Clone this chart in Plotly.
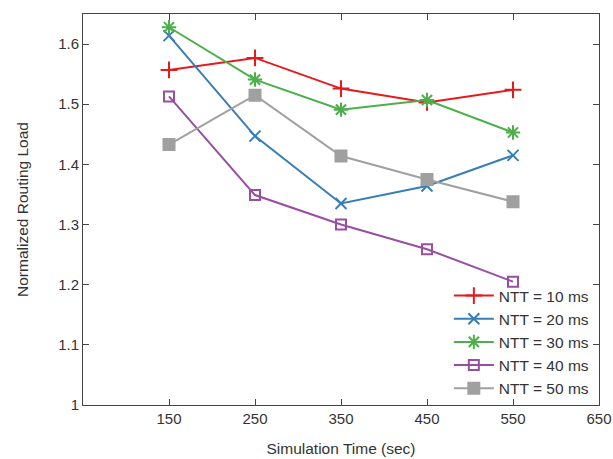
import plotly.graph_objects as go

sim_time = [150, 250, 350, 450, 550]
ntt10 = [1.557, 1.577, 1.526, 1.503, 1.524]
ntt20 = [1.614, 1.447, 1.335, 1.364, 1.415]
ntt30 = [1.628, 1.541, 1.491, 1.507, 1.453]
ntt40 = [1.513, 1.349, 1.300, 1.259, 1.205]
ntt50 = [1.433, 1.515, 1.414, 1.375, 1.338]

series = [
    ("NTT = 10 ms", ntt10, "#e41a1c", "cross-thin-open", 12),
    ("NTT = 20 ms", ntt20, "#377eb8", "x-thin-open", 11),
    ("NTT = 30 ms", ntt30, "#4daf4a", "asterisk-open", 12),
    ("NTT = 40 ms", ntt40, "#984ea3", "square-open", 10),
    ("NTT = 50 ms", ntt50, "#a0a0a0", "square", 11),
]

fig = go.Figure()
for name, vals, color, sym, size in series:
    fig.add_trace(go.Scatter(
        x=sim_time, y=vals, name=name, mode="lines+markers",
        line=dict(color=color, width=2),
        marker=dict(symbol=sym, size=size, color=color,
                    line=dict(color=color, width=2)),
    ))

axis_common = dict(
    showgrid=False, zeroline=False, showline=True, linecolor="#444444",
    linewidth=1, mirror="ticks", ticks="inside", ticklen=6,
    tickcolor="#444444", tickfont=dict(size=15, color="#333333"),
    automargin=False,
)

fig.update_layout(
    width=613, height=459,
    margin=dict(l=83, r=14, t=14, b=54),
    paper_bgcolor="white", plot_bgcolor="white",
    font=dict(family="Liberation Sans, Arial, sans-serif", color="#333333"),
    xaxis=dict(range=[50, 650], tickvals=[150, 250, 350, 450, 550, 650],
               title=dict(text="Simulation Time (sec)", font=dict(size=15.5), standoff=17),
               **axis_common),
    yaxis=dict(range=[1, 1.65], tickvals=[1, 1.1, 1.2, 1.3, 1.4, 1.5, 1.6],
               ticktext=["1", "1.1", "1.2", "1.3", "1.4", "1.5", "1.6"],
               title=dict(text="Normalized Routing Load", font=dict(size=15.5), standoff=25),
               **axis_common),
    legend=dict(x=0.99, y=0.0, xanchor="right", yanchor="bottom",
                bgcolor="rgba(0,0,0,0)", font=dict(size=15.5, color="#333333"),
                tracegroupgap=0, itemwidth=40),
    showlegend=True,
)

fig.write_html("out.html")
